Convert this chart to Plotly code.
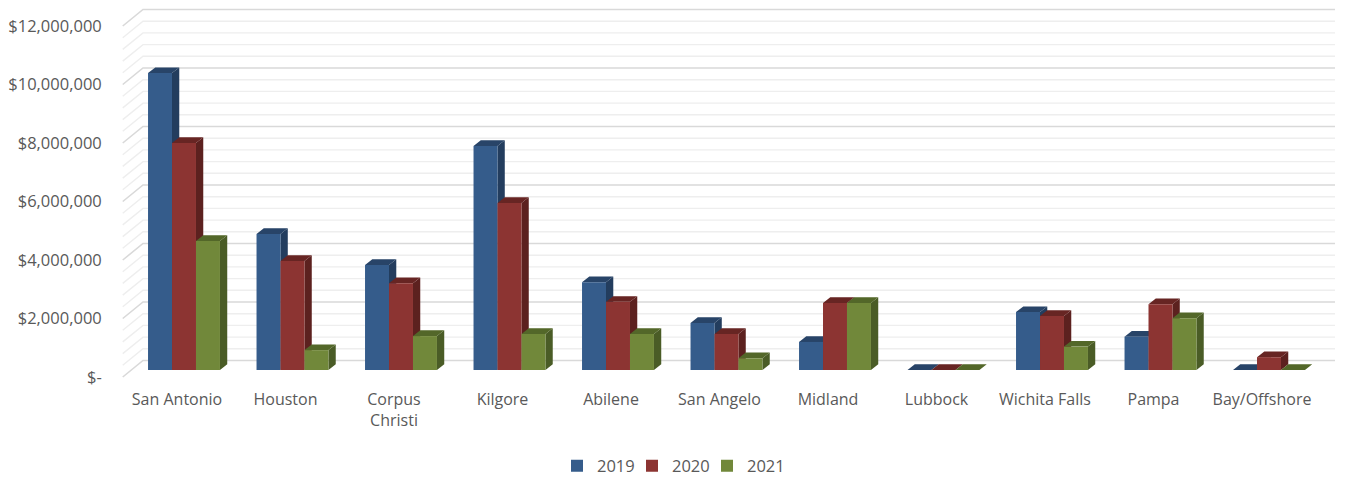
import plotly.graph_objects as go

# ---------------- data ----------------
categories = ["San Antonio", "Houston", "Corpus Christi", "Kilgore", "Abilene",
              "San Angelo", "Midland", "Lubbock", "Wichita Falls", "Pampa", "Bay/Offshore"]
tick_labels = ["San Antonio", "Houston", "Corpus<br>Christi", "Kilgore", "Abilene",
               "San Angelo", "Midland", "Lubbock", "Wichita Falls", "Pampa", "Bay/Offshore"]
years = ["2019", "2020", "2021"]
values_2019 = [10150000, 4650000, 3590000, 7660000, 3000000, 1610000, 960000, 0, 1980000, 1140000, 0]
values_2020 = [7760000, 3730000, 2970000, 5710000, 2330000, 1230000, 2290000, 0, 1850000, 2250000, 440000]
values_2021 = [4410000, 680000, 1160000, 1230000, 1230000, 400000, 2290000, 0, 800000, 1770000, 0]
y_tick_values = [0, 2000000, 4000000, 6000000, 8000000, 10000000, 12000000]
y_tick_text = ["$-", "$2,000,000", "$4,000,000", "$6,000,000", "$8,000,000", "$10,000,000", "$12,000,000"]

series = [values_2019, values_2020, values_2021]
front_colors = ["#355C8B", "#8C3432", "#71883A"]
side_colors = ["#233D5E", "#5C211F", "#4A5C26"]
top_colors = ["#284468", "#672523", "#536729"]

# ---------------- geometry ----------------
W, H = 1346, 479
PLOT_TOP, PLOT_BOTTOM = 5, 380
K = 29.25 / 1e6           # px per dollar
FRONT_ZERO, BAR_ZERO, BACK_ZERO = 377, 370, 360.5
X_FRONT0, X_FRONT1 = 122.75, 1316.25
X_BACK0, X_BACK1 = 143, 1335

def yrange(zero_px):
    return [(zero_px - PLOT_BOTTOM) / K, (zero_px - PLOT_TOP) / K]

bar_w = 0.221
first_off = -0.267
dx = 0.067                # depth shift in category units
dy = 5.7 / K              # depth shift in dollars

fig = go.Figure()

# side and top faces (drawn beneath front faces)
for s, vals in enumerate(series):
    sx, sy, tx, ty = [], [], [], []
    for i, v in enumerate(vals):
        x0 = i + first_off + s * bar_w
        x1 = x0 + bar_w
        sx += [x1, x1 + dx, x1 + dx, x1, x1, None]
        sy += [0, dy, v + dy, v, 0, None]
        tx += [x0, x0 + dx, x1 + dx, x1, x0, None]
        ty += [v, v + dy, v + dy, v, v, None]
    fig.add_trace(go.Scatter(x=sx, y=sy, xaxis="x", yaxis="y2", mode="lines", fill="toself",
                             fillcolor=side_colors[s], line=dict(width=0, color=side_colors[s]),
                             showlegend=False, hoverinfo="skip"))
    fig.add_trace(go.Scatter(x=tx, y=ty, xaxis="x", yaxis="y2", mode="lines", fill="toself",
                             fillcolor=top_colors[s], line=dict(width=0, color=top_colors[s]),
                             showlegend=False, hoverinfo="skip"))

# front faces
for s, vals in enumerate(series):
    fig.add_trace(go.Bar(x=list(range(len(categories))), y=vals, name=years[s],
                         xaxis="x", yaxis="y3", width=bar_w, offset=first_off + s * bar_w,
                         marker=dict(color=front_colors[s], line=dict(width=0)),
                         hovertext=categories))

# gridlines on back wall + side wall diagonals
back_shift = (FRONT_ZERO - BACK_ZERO) / K
shapes = []
g = 0
step = 400000
while g <= 12000000 + 1:
    major = (g % 2000000 == 0)
    col = "#D9D9D9" if major else "#EEEEEE"
    wid = 1.6 if major else 1.4
    shapes.append(dict(type="path", xref="paper", yref="y", layer="below",
                       path=f"M {X_FRONT0 / W},{g} L {X_BACK0 / W},{g + back_shift} L {X_BACK1 / W},{g + back_shift}",
                       line=dict(color=col, width=wid)))
    g += step

font_family = "Open Sans, Arial, sans-serif"
fig.update_layout(
    width=W, height=H,
    margin=dict(l=0, r=0, t=PLOT_TOP, b=H - PLOT_BOTTOM, autoexpand=False),
    paper_bgcolor="white", plot_bgcolor="rgba(0,0,0,0)",
    barmode="overlay",
    shapes=shapes,
    font=dict(family=font_family, size=16, color="#595959"),
    xaxis=dict(domain=[X_FRONT0 / W, X_FRONT1 / W], range=[-0.5, 10.5],
               tickmode="array", tickvals=list(range(len(categories))), ticktext=tick_labels,
               showgrid=False, zeroline=False, showline=False, ticks="", automargin=False,
               ticklabelstandoff=8, fixedrange=True),
    yaxis=dict(range=yrange(FRONT_ZERO), tickmode="array", tickvals=y_tick_values,
               ticktext=y_tick_text, showgrid=False, zeroline=False, showline=False,
               ticks="", ticklabelstandoff=20, automargin=False, fixedrange=True,
               tickfont=dict(size=16.5)),
    yaxis2=dict(range=yrange(BAR_ZERO), overlaying="y", anchor="x", visible=False, fixedrange=True),
    yaxis3=dict(range=yrange(BAR_ZERO), overlaying="y", anchor="x", visible=False, fixedrange=True),
    legend=dict(orientation="h", x=669.5 / W, xanchor="center", y=-(466 - PLOT_BOTTOM) / (PLOT_BOTTOM - PLOT_TOP),
                yanchor="middle", font=dict(size=16.5, color="#595959"), itemwidth=30,
                entrywidth=30, entrywidthmode="pixels", traceorder="normal"),
    showlegend=True,
)

fig.write_html("out.html", config={"displayModeBar": False},
               post_script="document.body.style.margin='0';document.body.style.padding='0';")
